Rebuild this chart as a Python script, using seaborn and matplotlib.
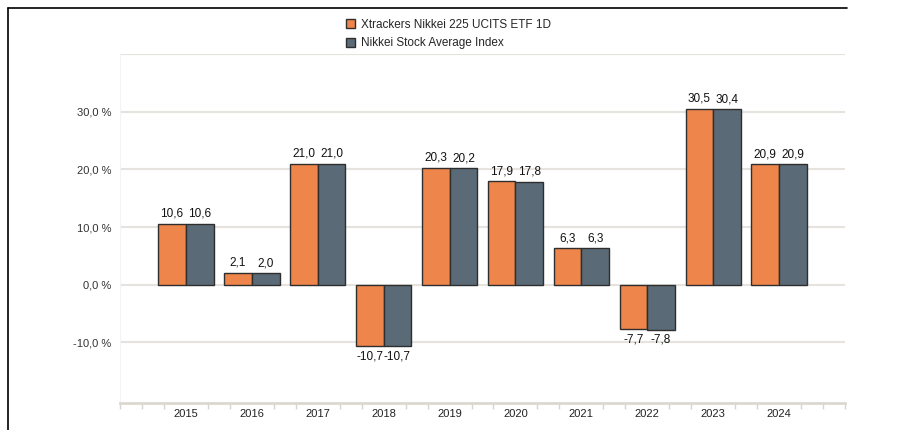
import numpy as np
import pandas as pd
import seaborn as sns
import matplotlib.pyplot as plt
from matplotlib.lines import Line2D
from matplotlib.ticker import FixedLocator, FuncFormatter

# data
years = ['2015', '2016', '2017', '2018', '2019', '2020', '2021', '2022', '2023', '2024']
etf_returns = [10.6, 2.1, 21.0, -10.7, 20.3, 17.9, 6.3, -7.7, 30.5, 20.9]
index_returns = [10.6, 2.0, 21.0, -10.7, 20.2, 17.8, 6.3, -7.8, 30.4, 20.9]
series_names = ['Xtrackers Nikkei 225 UCITS ETF 1D', 'Nikkei Stock Average Index']
colors = ['#ee854a', '#5a6a77']
ytick_values = [-10, 0, 10, 20, 30]
grid_values = [-10, 0, 10, 20, 30, 40]

df = pd.DataFrame({
    'year': years * 2,
    'ret': etf_returns + index_returns,
    'series': [series_names[0]] * len(years) + [series_names[1]] * len(years),
})

sns.set_style('white')
plt.rcParams['font.family'] = ['Liberation Sans', 'DejaVu Sans']

fig = plt.figure(figsize=(9.05, 4.3), dpi=100)
ax = fig.add_axes([120 / 905, 1 - 403 / 430, 725 / 905, (403 - 54) / 430])

sns.barplot(data=df, x='year', y='ret', hue='series', palette=colors, saturation=1,
            width=0.84, edgecolor='#2e2e2e', linewidth=1.0, ax=ax, zorder=3)

# value labels, comma decimal
for cont, vals in zip(ax.containers, [etf_returns, index_returns]):
    labels = [f'{v:.1f}'.replace('.', ',') for v in vals]
    ax.bar_label(cont, labels=labels, padding=3, fontsize=8.5, color='#111111')

ax.set_xlim(-1, 10)
ax.set_ylim(-20.5, 40)

# gridlines
for g in grid_values:
    ax.axhline(g, color='#e6e3de', lw=1.5, zorder=0)

ax.yaxis.set_major_locator(FixedLocator(ytick_values))
ax.yaxis.set_major_formatter(FuncFormatter(lambda v, p: f'{v:.1f} %'.replace('.', ',')))
ax.tick_params(axis='y', length=0, pad=6, labelsize=8, labelcolor='#333333')

ax.xaxis.set_minor_locator(FixedLocator(np.arange(-1, 10.01, 1 / 3)))
ax.tick_params(axis='x', which='major', bottom=True, length=0, pad=4, labelsize=8, labelcolor='#222222')
ax.tick_params(axis='x', which='minor', bottom=True, length=4, width=1, color='#d8d4cc', direction='out')

ax.set_xlabel('')
ax.set_ylabel('')
for s in ['top', 'right']:
    ax.spines[s].set_visible(False)
ax.spines['left'].set_color('#f3f3f3')
ax.spines['bottom'].set_color('#dcd8d0')
ax.spines['bottom'].set_linewidth(2)

ax.get_legend().remove()
handles, lbls = ax.get_legend_handles_labels()
fig.legend(handles, lbls, loc='upper left', bbox_to_anchor=(335 / 905, 1 - 8 / 430),
           frameon=False, fontsize=8.5, handlelength=0.8, handleheight=0.8,
           handletextpad=0.5, labelspacing=0.55)

# screenshot frame
fig.add_artist(Line2D([8 / 905, 847 / 905], [1 - 7.5 / 430, 1 - 7.5 / 430], color='black', lw=1.2))
fig.add_artist(Line2D([8 / 905, 8 / 905], [0, 1 - 7.5 / 430], color='black', lw=1.2))

fig.savefig('out.png', dpi=100)
